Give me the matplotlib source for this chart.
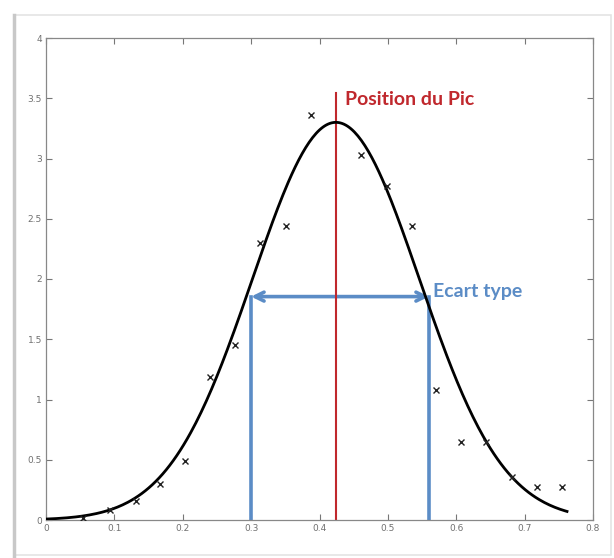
import numpy as np
import matplotlib
matplotlib.use('Agg')
import matplotlib.pyplot as plt
from matplotlib.patches import Rectangle
from matplotlib.lines import Line2D

# measured points
x_data = [0.054, 0.094, 0.132, 0.167, 0.203, 0.240, 0.276, 0.313, 0.351, 0.387,
          0.461, 0.499, 0.535, 0.570, 0.607, 0.643, 0.681, 0.718, 0.754]
y_data = [0.02, 0.08, 0.16, 0.30, 0.49, 1.19, 1.45, 2.30, 2.44, 3.36,
          3.03, 2.77, 2.44, 1.08, 0.65, 0.65, 0.36, 0.27, 0.27]

# gaussian fit parameters
peak_pos = 0.424
peak_height = 3.3
sigma = 0.122
fit_range = (0.0, 0.762)

# annotation values
ecart_left = 0.300
ecart_right = 0.560
ecart_y = 1.854
pic_top = 3.54

x_ticks = [0, 0.1, 0.2, 0.3, 0.4, 0.5, 0.6, 0.7, 0.8]
x_ticklabels = ['0', '0.1', '0.2', '0.3', '0.4', '0.5', '0.6', '0.7', '0.8']
y_ticks = [0, 0.5, 1, 1.5, 2, 2.5, 3, 3.5, 4]
y_ticklabels = ['0', '0.5', '1', '1.5', '2', '2.5', '3', '3.5', '4']

red = '#c0282d'
blue = '#5b8cc6'

fig = plt.figure(figsize=(6.14, 5.58), dpi=100)
fig.patch.set_facecolor('white')

# screenshot frame
fig.patches.append(Rectangle((14 / 614, 3 / 558), 597 / 614, 540 / 558,
                             transform=fig.transFigure, fill=False,
                             edgecolor='#e4e4e4', linewidth=1.2))
fig.lines.append(Line2D([14 / 614, 14 / 614], [2 / 558, 543 / 558],
                        transform=fig.transFigure, color='#c8c8c8', linewidth=2.5))

ax = fig.add_axes([46 / 614, 1 - 520 / 558, 547 / 614, 482 / 558])

xs = np.linspace(fit_range[0], fit_range[1], 300)
ys = peak_height * np.exp(-(xs - peak_pos) ** 2 / (2 * sigma ** 2))
ax.plot(xs, ys, color='black', linewidth=2.0, zorder=3)
ax.plot(x_data, y_data, 'x', color='#222222', markersize=4.2, markeredgewidth=1.0, zorder=4)

# peak line
ax.plot([peak_pos, peak_pos], [0, pic_top], color=red, linewidth=1.5, zorder=2.5)
ax.text(0.437, 3.49, 'Position du Pic', color=red, fontsize=14,
        fontfamily='Lato', fontweight='bold', va='center', ha='left')

# standard deviation
ax.plot([ecart_left, ecart_left], [0, ecart_y], color=blue, linewidth=2.6, zorder=2)
ax.plot([ecart_right, ecart_right], [0, ecart_y], color=blue, linewidth=2.6, zorder=2)
ax.annotate('', xy=(ecart_left, ecart_y), xytext=(ecart_right, ecart_y),
            arrowprops=dict(arrowstyle='<->', color=blue, lw=2.6,
                            mutation_scale=16, shrinkA=0, shrinkB=0), zorder=2)
ax.text(0.566, 1.895, 'Ecart type', color=blue, fontsize=14,
        fontfamily='Lato', fontweight='bold', va='center', ha='left')

ax.set_xlim(0, 0.8)
ax.set_ylim(0, 4)
ax.set_xticks(x_ticks)
ax.set_xticklabels(x_ticklabels)
ax.set_yticks(y_ticks)
ax.set_yticklabels(y_ticklabels)
ax.tick_params(direction='in', length=4, width=0.8, colors='#777777',
               labelsize=6.5, labelcolor='#707070', top=True, right=True, pad=3)
for s in ax.spines.values():
    s.set_color('#888888')
    s.set_linewidth(0.9)

plt.savefig('out.png', dpi=100)
